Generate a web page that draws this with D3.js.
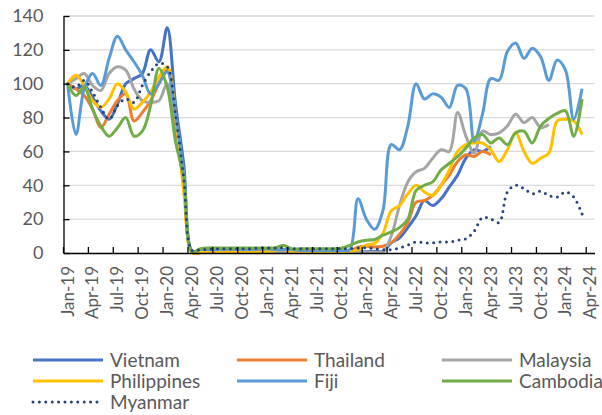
<!DOCTYPE html>
<html>
<head>
<meta charset="utf-8">
<script src="https://cdn.jsdelivr.net/npm/d3@7"></script>
<style>
  body { margin: 0; background: #fff; }
  text { font-family: Lato, "Open Sans", sans-serif; }
</style>
</head>
<body>
<div id="chart"></div>
<script>
// Month categories Jan-19 .. Apr-24 (the axis runs one month past the last data point)
const fmtMonth = d3.timeFormat("%b-%y");
const months = d3.timeMonth.range(new Date(2019, 0, 1), new Date(2024, 4, 1)).map(fmtMonth);
const tickMonths = months.filter((m, i) => i % 3 === 0);
const yTicks = [0, 20, 40, 60, 80, 100, 120, 140];

// Series values (index 0 = Jan-19)
const vietnam = [100, 97, 99, 92, 84, 79, 88, 100, 103, 106, 120, 113, 133, 88, 52,
  1, 0.5, 0.5, 0.8, 1, 1, 1, 1, 1.2, 1.5, 1, 1.2, 1, 1, 0.8, 0.8, 1, 1, 1, 0.8, 0.8, 0.8, 1, 1,
  6, 9, 15, 22, 31, 28, 32, 39, 46, 56, 61, 60, 63];
const thailand = [100, 97, 93, 85, 74, 82, 90, 94, 78, 83, 90, 100, 108, 75, 40,
  0.3, 0.3, 0.3, 0.3, 0.3, 0.3, 0.3, 0.3, 0.3, 0.3, 0.3, 0.3, 0.3, 0.3, 0.3, 0.3, 0.3, 0.3, 0.3,
  1, 3.5, 4, 3.5, 4,
  6, 11, 18, 30, 31, 34, 40, 46, 54, 58, 57, 60, 58];
const malaysia = [100, 103, 106, 99, 96, 106, 110, 108, 97, 90, 89, 90, 100, 80, 44,
  0.5, 0.5, 0.5, 0.5, 0.5, 0.5, 0.5, 0.5, 0.5, 0.5, 0.5, 0.5, 0.5, 0.5, 0.5, 0.5, 0.5, 0.5, 0.5, 0.5, 0.5, 0.5, 0.5, 0.5,
  10, 28, 42, 48, 50, 56, 61, 60, 83, 69, 59, 72, 70, 71, 75, 82, 77, 80, 74, 76];
const philippines = [100, 105, 99, 90, 86, 91, 100, 95, 85, 89, 95, 104, 110, 82, 36,
  0.3, 0.3, 0.5, 0.5, 0.5, 0.5, 0.5, 0.5, 0.5, 0.8, 1.5, 2, 0.8, 0.5, 0.5, 0.5, 0.5, 0.5, 0.5, 1,
  2, 4.7, 5.7, 11.6,
  25, 28, 35, 40, 36, 34, 40, 49, 60, 64, 65, 65, 61, 54, 61, 71, 60, 53, 56, 59, 78, 79, 78, 70];
const fiji = [100, 70, 97, 106, 99, 115, 128, 120, 113, 105, 94, 100, 107, 82, 47,
  1, 2, 2, 2, 2.5, 2.5, 2, 2, 2.5, 2.5, 2, 2, 2, 1.5, 1.5, 1.5, 1.5, 1.5, 1.5,
  2, 32, 20, 14, 25,
  64, 61, 75, 100, 91, 94, 92, 86, 99, 97, 66, 82, 103, 102, 119, 124, 115, 121, 116, 102, 114, 108, 79, 97];
const cambodia = [100, 93, 98, 85, 75, 69, 74, 80, 69, 72, 87, 109, 98, 66, 44,
  0.5, 2.5, 3, 3, 3, 3, 3, 3, 3, 3, 3, 4.5, 2.5, 2.5, 2.5, 2.5, 2.5, 2.5,
  2.8, 4.5, 6.5, 7.5, 8, 10.5,
  12.5, 15, 20, 37, 40, 42, 49, 53, 57, 62, 68, 70, 65, 68, 64, 71, 72, 65, 75, 79.5, 82.5, 84, 69, 91];
const myanmar = [100, 98, 102, 95, 86, 79, 87, 91, 89, 99, 107, 112, 110, 82, 44,
  1.5, 2, 2.2, 2.5, 2.5, 2.5, 2.5, 2.5, 3, 3, 3, 3, 2.5, 2.5, 2.5, 2.5, 2.5, 2.5, 2.5, 2.5, 3, 3, 2.5, 2,
  2, 3, 4.7, 6.5, 6, 6, 6.5, 6.5, 7.5, 8.5, 13, 21, 20, 18, 36, 40, 38, 35, 36.5, 34, 33, 36, 33, 23];

const seriesNames = ["Vietnam", "Thailand", "Malaysia", "Philippines", "Fiji", "Cambodia", "Myanmar"];
const seriesValues = [vietnam, thailand, malaysia, philippines, fiji, cambodia, myanmar];
const colors = ["#4472C4", "#ED7D31", "#A5A5A5", "#FFC000", "#5B9BD5", "#70AD47", "#264478"];

const W = 602, H = 415;
const plotLeft = 63.5, plotRight = 594.5, plotTop = 16, plotBottom = 253;

const svg = d3.select("#chart").append("svg")
  .attr("width", W).attr("height", H)
  .style("background", "#fff");

const x = d3.scaleBand().domain(months).range([plotLeft, plotRight]).padding(0);
const y = d3.scaleLinear().domain([0, 140]).range([plotBottom, plotTop]);
const xc = m => x(m) + x.bandwidth() / 2;

// gridlines
svg.append("g")
  .selectAll("line")
  .data(yTicks.filter(d => d > 0))
  .join("line")
    .attr("x1", plotLeft).attr("x2", plotRight)
    .attr("y1", d => y(d)).attr("y2", d => y(d))
    .attr("stroke", "#d9d9d9")
    .attr("stroke-width", 1.3);

// lines (centripetal catmull-rom keeps the Apr-20 drop from overshooting below zero)
const line = d3.line()
  .x((d, i) => xc(months[i]))
  .y(d => y(d))
  .curve(d3.curveCatmullRom.alpha(0.5));

svg.append("g")
  .selectAll("path")
  .data(seriesValues)
  .join("path")
    .attr("d", d => line(d))
    .attr("fill", "none")
    .attr("stroke", (d, i) => colors[i])
    .attr("stroke-width", 3)
    .attr("stroke-linecap", (d, i) => i === 6 ? "round" : "butt")
    .attr("stroke-linejoin", "round")
    .attr("stroke-dasharray", (d, i) => i === 6 ? "0 6.4" : null);

// y axis
const yAxis = svg.append("g")
  .attr("transform", `translate(${plotLeft},0)`)
  .call(d3.axisLeft(y).tickValues(yTicks).tickSize(-6).tickSizeOuter(0).tickPadding(20));
yAxis.selectAll("path, line").attr("stroke", "#000").attr("stroke-width", 1.3);
yAxis.selectAll("text")
  .attr("fill", "#595959")
  .style("font-size", "18px");

// x axis tick marks sit on category boundaries
const xTickMarks = svg.append("g")
  .attr("transform", `translate(${-x.bandwidth() / 2},${plotBottom})`)
  .call(d3.axisBottom(x).tickValues(tickMonths).tickSize(-6).tickFormat(""));
xTickMarks.select(".domain").remove();
xTickMarks.selectAll("line").attr("stroke", "#000").attr("stroke-width", 1.3);

// x axis line + rotated labels at category centres
const xAxis = svg.append("g")
  .attr("transform", `translate(0,${plotBottom})`)
  .call(d3.axisBottom(x).tickValues(tickMonths).tickSize(0).tickSizeOuter(0));
xAxis.select(".domain").attr("stroke", "#000").attr("stroke-width", 1.3);
xAxis.selectAll("text")
  .attr("transform", "rotate(-90)")
  .attr("x", -13).attr("y", 0).attr("dy", "0.35em")
  .style("text-anchor", "end")
  .attr("fill", "#595959")
  .style("font-size", "17px");

// legend
const legendX = [33, 237, 442];
const legend = svg.append("g");
seriesNames.forEach((name, i) => {
  const lx = legendX[i % 3], ly = 360 + Math.floor(i / 3) * 21;
  legend.append("line")
    .attr("x1", lx).attr("x2", lx + 70)
    .attr("y1", ly).attr("y2", ly)
    .attr("stroke", colors[i])
    .attr("stroke-width", 3)
    .attr("stroke-linecap", i === 6 ? "round" : "butt")
    .attr("stroke-dasharray", i === 6 ? "0 6.4" : null);
  legend.append("text")
    .attr("x", lx + 77).attr("y", ly)
    .attr("dy", "0.35em")
    .attr("fill", "#595959")
    .style("font-size", "19px")
    .text(name);
});
</script>
</body>
</html>
